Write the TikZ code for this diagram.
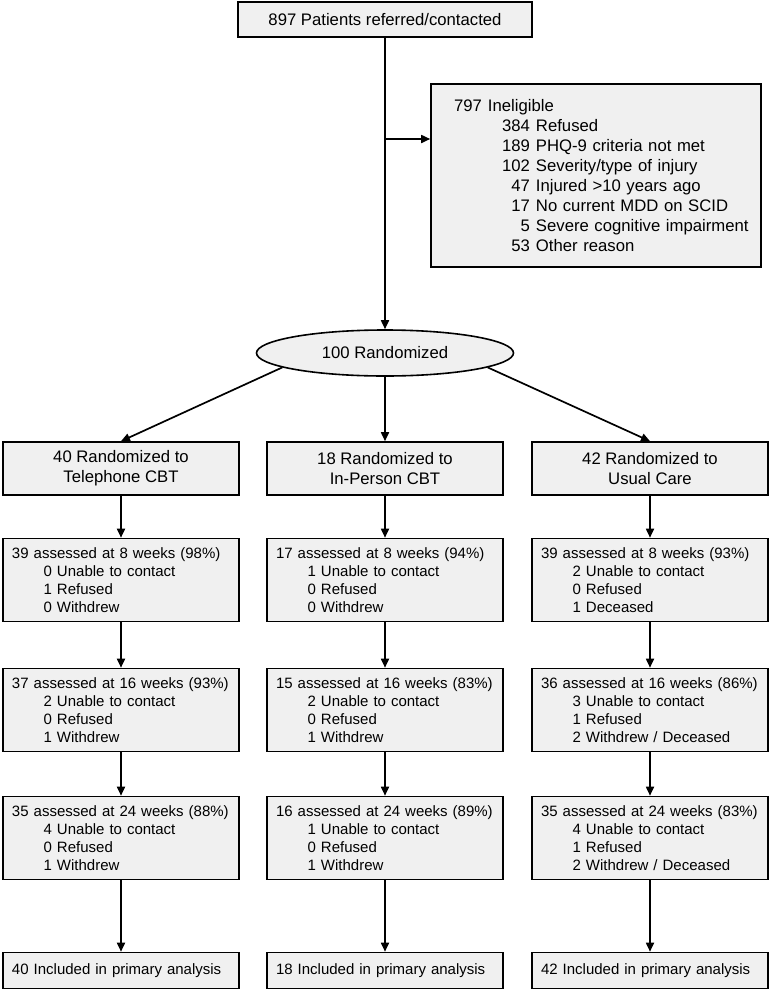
\documentclass[tikz,border=0pt]{standalone}
\usepackage{fontspec}
\setmainfont{Liberation Sans}
\usetikzlibrary{arrows.meta,shapes.geometric,calc}
\definecolor{boxfill}{RGB}{240,240,240}
\newcommand\hdfont{\fontsize{16.7}{20}\selectfont}
\newcommand\dtfont{\fontsize{15}{18}\selectfont}
\newcommand\myitem[2]{\makebox[40pt][r]{#1}\hspace{5pt}#2}
\newcommand\inelitem[2]{\makebox[99pt][r]{#1}\hspace{6pt}#2}
\tikzset{
  box/.style={draw=black, line width=1.6pt, fill=boxfill, inner sep=0pt, minimum width=236pt},
  hdbox/.style={box, minimum height=53pt, align=center, font=\hdfont},
  dtbox/.style={box, minimum height=83pt, text width=218pt, inner xsep=9pt, align=left, font=\dtfont},
  endbox/.style={box, minimum height=36pt, text width=218pt, inner xsep=9pt, align=left, font=\dtfont},
  arr/.style={line width=1.7pt, -{Triangle[length=9pt,width=8pt]}}
}
\begin{document}
\begin{tikzpicture}[x=1pt,y=-1pt]
\useasboundingbox (0,0) rectangle (771,991);

\node[box, minimum width=294pt, minimum height=35pt, font=\hdfont] (top) at (385,19.5) {897 Patients referred/contacted};

\node[box, minimum width=330pt, minimum height=183pt, text width=330pt, align=left, font=\fontsize{16.7}{20}\selectfont] (inel) at (596,175.5)
 {\makebox[51pt][r]{797}\hspace{6pt}Ineligible\\
  \inelitem{384}{Refused}\\
  \inelitem{189}{PHQ-9 criteria not met}\\
  \inelitem{102}{Severity/type of injury}\\
  \inelitem{47}{Injured >10 years ago}\\
  \inelitem{17}{No current MDD on SCID}\\
  \inelitem{5}{Severe cognitive impairment}\\
  \inelitem{53}{Other reason}};

\node[draw=black, line width=1.6pt, fill=boxfill, ellipse, inner sep=0pt, minimum width=257pt, minimum height=46pt, font=\hdfont] (ell) at (385,353) {100 Randomized};

\coordinate (br) at (385,139);

% headers
\node[hdbox] (h1) at (121,468.5) {40 Randomized to\\Telephone CBT};
\node[hdbox] (h2) at (385,468.5) {18 Randomized to\\In-Person CBT};
\node[hdbox] (h3) at (650,468.5) {42 Randomized to\\Usual Care};

% 8 weeks
\node[dtbox] (a1) at (121,580) {39 assessed at 8 weeks (98\%)\\\myitem{0}{Unable to contact}\\\myitem{1}{Refused}\\\myitem{0}{Withdrew}};
\node[dtbox] (a2) at (385,580) {17 assessed at 8 weeks (94\%)\\\myitem{1}{Unable to contact}\\\myitem{0}{Refused}\\\myitem{0}{Withdrew}};
\node[dtbox] (a3) at (650,580) {39 assessed at 8 weeks (93\%)\\\myitem{2}{Unable to contact}\\\myitem{0}{Refused}\\\myitem{1}{Deceased}};

% 16 weeks
\node[dtbox] (b1) at (121,710) {37 assessed at 16 weeks (93\%)\\\myitem{2}{Unable to contact}\\\myitem{0}{Refused}\\\myitem{1}{Withdrew}};
\node[dtbox] (b2) at (385,710) {15 assessed at 16 weeks (83\%)\\\myitem{2}{Unable to contact}\\\myitem{0}{Refused}\\\myitem{1}{Withdrew}};
\node[dtbox] (b3) at (650,710) {36 assessed at 16 weeks (86\%)\\\myitem{3}{Unable to contact}\\\myitem{1}{Refused}\\\myitem{2}{Withdrew / Deceased}};

% 24 weeks
\node[dtbox] (c1) at (121,838) {35 assessed at 24 weeks (88\%)\\\myitem{4}{Unable to contact}\\\myitem{0}{Refused}\\\myitem{1}{Withdrew}};
\node[dtbox] (c2) at (385,838) {16 assessed at 24 weeks (89\%)\\\myitem{1}{Unable to contact}\\\myitem{0}{Refused}\\\myitem{1}{Withdrew}};
\node[dtbox] (c3) at (650,838) {35 assessed at 24 weeks (83\%)\\\myitem{4}{Unable to contact}\\\myitem{1}{Refused}\\\myitem{2}{Withdrew / Deceased}};

% final
\node[endbox] (e1) at (121,970.5) {40 Included in primary analysis};
\node[endbox] (e2) at (385,970.5) {18 Included in primary analysis};
\node[endbox] (e3) at (650,970.5) {42 Included in primary analysis};

% connectors
\draw[arr] (top.south) -- (top.south |- ell.north);
\draw[arr] (br) -- (br -| inel.west);
\draw[arr] (ell.188) -- (h1.north);
\draw[arr] (ell.south) -- (h2.north);
\draw[arr] (ell.352) -- (h3.north);
\foreach \i in {1,2,3}{
  \draw[arr] (h\i.south) -- (a\i.north);
  \draw[arr] (a\i.south) -- (b\i.north);
  \draw[arr] (b\i.south) -- (c\i.north);
  \draw[arr] (c\i.south) -- (e\i.north);
}
\end{tikzpicture}
\end{document}
